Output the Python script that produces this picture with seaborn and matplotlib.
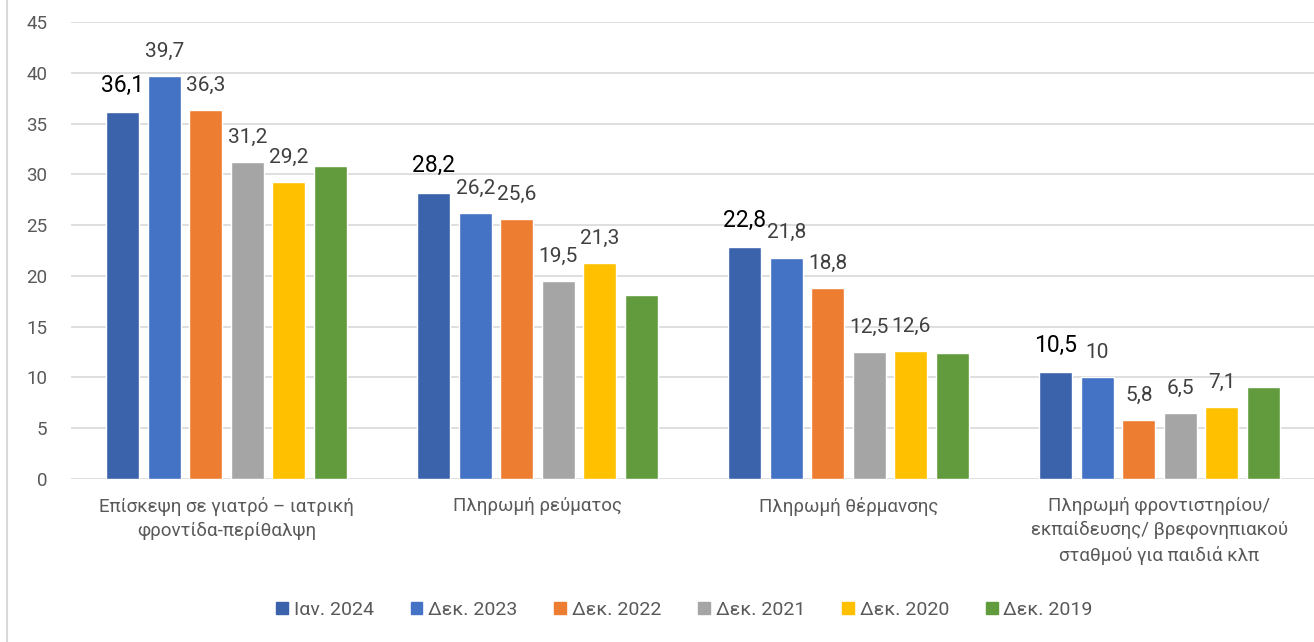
import pandas as pd
import numpy as np
import matplotlib
matplotlib.use('Agg')
import matplotlib.pyplot as plt
import seaborn as sns

# data
categories = [
    "Επίσκεψη σε γιατρό – ιατρική\nφροντίδα-περίθαλψη",
    "Πληρωμή ρεύματος",
    "Πληρωμή θέρμανσης",
    "Πληρωμή φροντιστηρίου/\nεκπαίδευσης/ βρεφονηπιακού\nσταθμού για παιδιά κλπ",
]
periods = ["Ιαν. 2024", "Δεκ. 2023", "Δεκ. 2022", "Δεκ. 2021", "Δεκ. 2020", "Δεκ. 2019"]
jan_2024 = [36.1, 28.2, 22.8, 10.5]
dec_2023 = [39.7, 26.2, 21.8, 10.0]
dec_2022 = [36.3, 25.6, 18.8, 5.8]
dec_2021 = [31.2, 19.5, 12.5, 6.5]
dec_2020 = [29.2, 21.3, 12.6, 7.1]
dec_2019 = [30.8, 18.1, 12.4, 9.1]
y_ticks = [0, 5, 10, 15, 20, 25, 30, 35, 40, 45]

colors = ["#3A63AC", "#4472C4", "#ED7D31", "#A5A5A5", "#FFC000", "#629B3E"]

series = [jan_2024, dec_2023, dec_2022, dec_2021, dec_2020, dec_2019]
rows = []
for period, vals in zip(periods, series):
    for cat, v in zip(categories, vals):
        rows.append({"category": cat, "period": period, "value": v})
df = pd.DataFrame(rows)

sns.set_style("white")
plt.rcParams['font.family'] = ['Roboto', 'DejaVu Sans']

fig = plt.figure(figsize=(13.14, 6.42), dpi=100)
ax = fig.add_axes([71 / 1314, 1 - 479 / 642, 1244 / 1314, 457 / 642])

sns.barplot(data=df, x="category", y="value", hue="period", order=categories,
            hue_order=periods, palette=colors, width=0.8, gap=0.2,
            saturation=1, ax=ax, legend=False)

ax.set_ylim(0, 45)
ax.set_xlim(-0.5, 3.5)
ax.set_yticks(y_ticks)
ax.yaxis.grid(True, color="#D9D9D9", linewidth=1.2)
ax.set_axisbelow(True)
for s in ax.spines.values():
    s.set_visible(False)
ax.tick_params(axis='y', length=0, pad=17, labelsize=13.5, labelcolor="#595959")
ax.tick_params(axis='x', length=0, pad=13, labelsize=13.5, labelcolor="#595959")
for lbl in ax.get_xticklabels():
    lbl.set_linespacing(1.45)
ax.set_xlabel("")
ax.set_ylabel("")

def fmt(v):
    if float(v).is_integer():
        return str(int(v))
    return f"{v:.1f}".replace(".", ",")

# value labels, none for Dec 2019
for i, cont in enumerate(ax.containers[:5]):
    labels = [fmt(v) for v in series[i]]
    if i == 0:
        ax.bar_label(cont, labels=labels, padding=11, fontsize=16.5, color="black")
    else:
        ax.bar_label(cont, labels=labels, padding=11, fontsize=15, color="#404040")

handles = [plt.Rectangle((0, 0), 1, 1, color=c) for c in colors]
fig.legend(handles, periods, loc="center", bbox_to_anchor=(0.521, 1 - 610 / 642),
           ncol=6, frameon=False, fontsize=14, handlelength=0.6, handleheight=0.6,
           handletextpad=0.3, columnspacing=1.9, labelcolor="#595959")

# chart frame on the left
fig.add_artist(plt.Line2D([7 / 1314, 7 / 1314], [0, 1], color="#D9D9D9", linewidth=1.5))

fig.savefig("out.png", dpi=100)
